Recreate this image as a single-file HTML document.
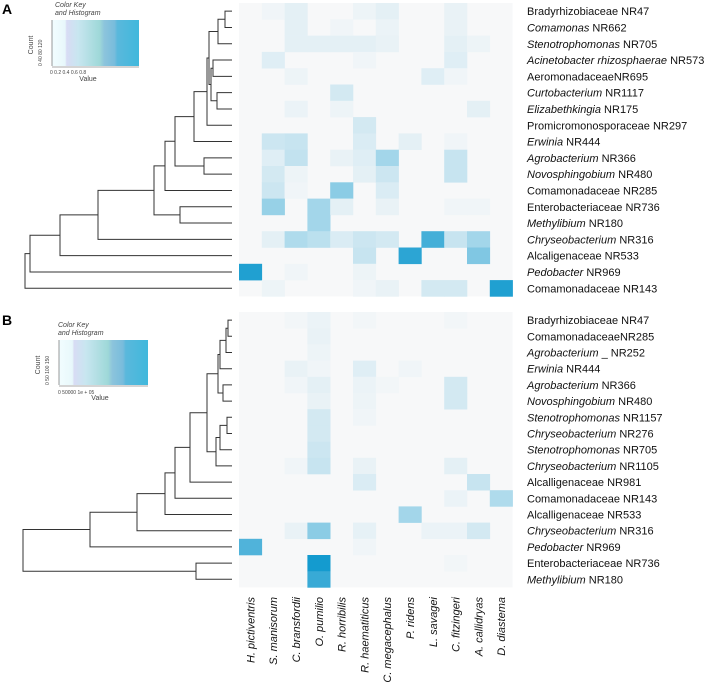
<!DOCTYPE html>
<html><head><meta charset="utf-8"><style>
body{margin:0;background:#fff;}
svg{display:block;font-family:"Liberation Sans",sans-serif;}
</style></head><body>
<svg id="chart" width="708" height="691" viewBox="0 0 708 691" xmlns="http://www.w3.org/2000/svg">
<text x="2" y="14" font-size="14" font-weight="bold">A</text>
<text x="2" y="325" font-size="14" font-weight="bold">B</text>
<defs>
<linearGradient id="kg" x1="0" x2="1" y1="0" y2="0">
<stop offset="0" stop-color="#f2fdff"/><stop offset="0.15" stop-color="#e8f8fb"/><stop offset="0.17" stop-color="#d8dcf4"/><stop offset="0.3" stop-color="#c8e6f0"/><stop offset="0.55" stop-color="#9ed8d8"/><stop offset="0.6" stop-color="#8cc4dc"/><stop offset="0.72" stop-color="#78bcdc"/><stop offset="0.75" stop-color="#5ab8dc"/><stop offset="1" stop-color="#40b8dc"/>
</linearGradient>
</defs>
<g id="keyA">
<text x="55" y="7" font-size="7" font-style="italic" fill="#444">Color Key</text>
<text x="55" y="15" font-size="7" font-style="italic" fill="#444">and Histogram</text>
<rect x="52" y="20" width="87" height="46" fill="url(#kg)"/>
<line x1="52" y1="20" x2="52" y2="66" stroke="#555" stroke-width="0.6"/>
<line x1="52" y1="67" x2="139" y2="67" stroke="#555" stroke-width="0.6"/>
<text x="33" y="45" font-size="7" fill="#444" transform="rotate(-90 33 45)" text-anchor="middle">Count</text>
<text x="42" y="66" font-size="5" fill="#444" transform="rotate(-90 42 66)">0  40  80  120</text>
<text x="50" y="74" font-size="5" fill="#444">0  0.2  0.4  0.6  0.8</text>
<text x="88" y="81" font-size="7" fill="#444" text-anchor="middle">Value</text>
</g>
<g id="keyB">
<text x="58" y="327" font-size="7" font-style="italic" fill="#444">Color Key</text>
<text x="58" y="335" font-size="7" font-style="italic" fill="#444">and Histogram</text>
<rect x="59" y="340" width="89" height="45" fill="url(#kg)"/>
<line x1="59" y1="340" x2="59" y2="385" stroke="#555" stroke-width="0.6"/>
<line x1="59" y1="386" x2="148" y2="386" stroke="#555" stroke-width="0.6"/>
<text x="40" y="365" font-size="7" fill="#444" transform="rotate(-90 40 365)" text-anchor="middle">Count</text>
<text x="49" y="385" font-size="5" fill="#444" transform="rotate(-90 49 385)">0  50  100  150</text>
<text x="58" y="394" font-size="5" fill="#444">0    50000   1e + 05</text>
<text x="100" y="400" font-size="7" fill="#444" text-anchor="middle">Value</text>
</g>
</svg>
<script>
const columns=["H. pictiventris","S. manisorum","C. bransfordii","O. pumilio","R. horribilis","R. haematiticus","C. megacephalus","P. ridens","L. savagei","C. fitzingeri","A. callidryas","D. diastema"];
const rowsA=[["Bradyrhizobiaceae NR47",""],["Comamonas"," NR662"],["Stenotrophomonas"," NR705"],["Acinetobacter rhizosphaerae"," NR573"],["AeromonadaceaeNR695",""],["Curtobacterium"," NR1117"],["Elizabethkingia"," NR175"],["Promicromonosporaceae NR297",""],["Erwinia"," NR444"],["Agrobacterium"," NR366"],["Novosphingobium"," NR480"],["Comamonadaceae NR285",""],["Enterobacteriaceae NR736",""],["Methylibium","  NR180"],["Chryseobacterium"," NR316"],["Alcaligenaceae NR533",""],["Pedobacter","  NR969"],["Comamonadaceae NR143",""]];
const rowsB=[["Bradyrhizobiaceae NR47",""],["ComamonadaceaeNR285",""],["Agrobacterium"," _ NR252"],["Erwinia","  NR444"],["Agrobacterium"," NR366"],["Novosphingobium"," NR480"],["Stenotrophomonas"," NR1157"],["Chryseobacterium"," NR276"],["Stenotrophomonas"," NR705"],["Chryseobacterium"," NR1105"],["Alcalligenaceae NR981",""],["Comamonadaceae NR143",""],["Alcalligenaceae NR533",""],["Chryseobacterium"," NR316"],["Pedobacter","  NR969"],["Enterobacteriaceae NR736",""],["Methylibium","  NR180"]];
const italicA=[0,1,1,1,0,1,1,0,1,1,1,0,0,1,1,0,1,0];
const italicB=[0,0,1,1,1,1,1,1,1,1,0,0,0,1,1,0,1];
const valuesA=[
[0,.03,.08,0,0,.04,.08,0,0,.06,0,0],
[0,0,.08,0,.03,0,.05,0,0,.06,0,0],
[0,0,.08,.08,.08,.08,.06,0,0,.08,.04,0],
[0,.1,0,0,0,.03,0,0,0,.1,0,0],
[0,0,.04,0,0,0,0,0,.1,.03,0,0],
[0,0,0,0,.15,0,0,0,0,0,0,0],
[0,0,.05,0,.04,0,0,0,0,0,.08,0],
[0,0,0,0,0,.15,0,0,0,0,0,0],
[0,.18,.2,0,0,.12,0,.08,0,.03,0,0],
[0,.1,.22,0,.06,.1,.35,0,0,.2,0,0],
[0,.15,.04,0,0,.08,.18,0,0,.2,0,0],
[0,.18,.03,0,.45,0,.12,0,0,0,0,0],
[0,.4,0,.35,.08,0,.06,0,0,.03,.03,0],
[0,0,0,.35,0,0,0,0,0,0,0,0],
[0,.08,.3,.25,.12,.18,.15,0,.75,.2,.35,0],
[0,0,0,0,0,.2,0,.85,0,0,.5,0],
[.9,0,.03,0,0,.04,0,0,0,0,0,0],
[0,.04,0,0,0,.03,.06,0,.15,.15,0,.9]];
const valuesB=[
[0,0,.02,.05,0,.02,0,0,0,.02,0,0],
[0,0,0,.06,0,0,0,0,0,0,0,0],
[0,0,0,.04,0,0,0,0,0,0,0,0],
[0,0,.06,.03,0,.1,0,.03,0,0,0,0],
[0,0,.03,.08,0,.05,.02,0,0,.15,0,0],
[0,0,0,.06,0,.04,0,0,0,.15,0,0],
[0,0,0,.15,0,.03,0,0,0,0,0,0],
[0,0,0,.15,0,0,0,0,0,0,0,0],
[0,0,0,.18,0,0,0,0,0,0,0,0],
[0,0,.03,.2,0,.06,0,0,0,.08,0,0],
[0,0,0,0,0,.12,0,0,0,0,.2,0],
[0,0,0,0,0,0,0,0,0,.05,0,.3],
[0,0,0,0,0,0,0,.35,0,0,0,0],
[0,0,.06,.45,0,.07,0,0,.05,.05,.15,0],
[.7,0,0,0,0,.03,0,0,0,0,0,0],
[0,0,0,.95,0,0,0,0,0,.02,0,0],
[0,0,0,.8,0,0,0,0,0,0,0,0]];
const mergesA=[[0,1,225],[18,2,218],[3,4,213],[5,6,217],[20,21,211],[19,22,209],[23,7,207],[24,8,194],[9,10,204],[25,26,175],[27,11,165],[12,13,180],[28,29,154],[30,14,98],[31,15,60],[32,16,30],[33,17,25]];
const mergesB=[[0,1,228],[17,2,226],[18,3,220],[4,5,223],[19,20,218],[6,7,227],[22,8,220],[23,9,216],[21,24,207],[25,10,190],[26,11,175],[27,12,165],[28,13,137],[29,14,90],[15,16,196],[30,31,23]];

const NS="http://www.w3.org/2000/svg";
const svg=document.getElementById('chart');
const X0=239,CW=22.8,LEAFX=232;
function colX(i){return X0+i*CW;}
function color(v){
 const a=[247,248,249],b=[8,150,205];
 const t=Math.max(0,Math.min(1,v));
 return `rgb(${a.map((c,k)=>Math.round(c+(b[k]-c)*t)).join(',')})`;
}
function el(tag,attrs,parent){const e=document.createElementNS(NS,tag);for(const k in attrs)e.setAttribute(k,attrs[k]);(parent||svg).appendChild(e);return e;}

function panel(key,rows,ital,vals,merges,top,rh){
 const g=el('g',{});
 
 
 const rowY=i=>top+i*rh;
 el('rect',{x:X0,y:top,width:CW*columns.length,height:rh*rows.length,fill:color(0)},g);
 vals.forEach((r,i)=>r.forEach((v,j)=>{
  if(v<=0)return;
  const c=el('rect',{x:colX(j),y:rowY(i),width:CW+0.3,height:rh+0.3,fill:color(v)},g);
  
  
 }));
 rows.forEach((r,i)=>{
  const t=el('text',{x:527,y:rowY(i)+rh/2+4,'font-size':11,fill:'#111'},g);
  
  
  const s1=el('tspan',{'font-style':ital[i]?'italic':'normal'},t);s1.textContent=r[0];
  if(r[1]){const s2=el('tspan',{},t);s2.textContent=r[1];}
 });
 const d=el('g',{stroke:'#333','stroke-width':1,fill:'none'});
 
 
 const nodes=rows.map((_,i)=>({y:rowY(i)+rh/2,x:LEAFX}));
 merges.forEach(m=>{
  const a=nodes[m[0]],b=nodes[m[1]],x=m[2];
  el('path',{d:`M${a.x},${a.y}H${x}V${b.y}H${b.x}`},d);
  nodes.push({x:x,y:(a.y+b.y)/2});
 });
}
panel('a',rowsA,italicA,valuesA,mergesA,3,16.3);
panel('b',rowsB,italicB,valuesB,mergesB,312,16.2);
columns.forEach((c,i)=>{
 const x=colX(i)+CW/2+4,y=597;
 const t=el('text',{x:x,y:y,'font-size':11,'font-style':'italic','text-anchor':'end',fill:'#111',transform:`rotate(-90 ${x} ${y})`});
 
 
 t.textContent=c;
});
</script>
</body></html>
